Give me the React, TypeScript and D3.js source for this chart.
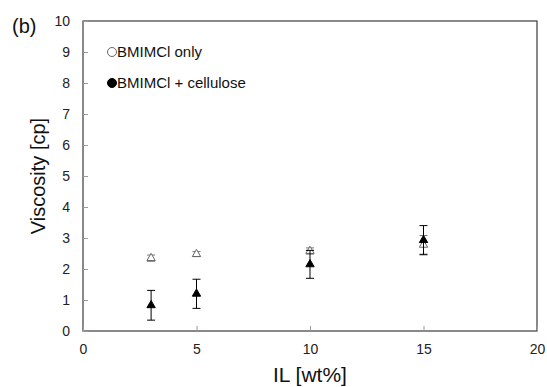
import React, { useEffect, useRef } from 'react';
import * as d3 from 'd3';

// IL concentration [wt%]
const ilWt = [3, 5, 10, 15];
// viscosity [cp], BMIMCl only (open) and BMIMCl + cellulose (filled)
const onlyVals = [2.35, 2.48, 2.58, 2.78];
const onlyErr = [0.1, 0.08, 0.1, 0.3];
const celluloseVals = [0.83, 1.2, 2.15, 2.93];
const celluloseErr = [0.48, 0.47, 0.45, 0.47];
const xTicks = [0, 5, 10, 15, 20];
const yTicks = [0, 1, 2, 3, 4, 5, 6, 7, 8, 9, 10];
const legendLabels = ['BMIMCl only', 'BMIMCl + cellulose'];

const App: React.FC = () => {
  const ref = useRef<SVGSVGElement | null>(null);

  useEffect(() => {
    if (!ref.current) return;
    const width = 547;
    const height = 387;
    const font = 'Arial, "Liberation Sans", sans-serif';
    const axisColor = '#4a4a4a';

    const x = d3.scaleLinear().domain([0, 20]).range([83, 537]);
    const y = d3.scaleLinear().domain([0, 10]).range([331, 21]);

    const svg = d3.select(ref.current)
      .attr('width', width)
      .attr('height', height)
      .style('font-family', font);
    svg.selectAll('*').remove();

    // plot frame
    svg.append('rect')
      .attr('x', x(0)).attr('y', y(10))
      .attr('width', x(20) - x(0)).attr('height', y(0) - y(10))
      .attr('fill', 'none').attr('stroke', axisColor).attr('stroke-width', 1.3);

    // ticks point inward
    const xAxis = svg.append('g')
      .attr('transform', `translate(0,${y(0)})`)
      .call(d3.axisBottom(x).tickValues(xTicks).tickSize(-5).tickPadding(13).tickFormat(d3.format('d')));
    xAxis.select('.domain').remove();
    xAxis.selectAll('line').attr('stroke', '#999');
    xAxis.selectAll('text').attr('font-size', 14).attr('fill', '#222').attr('font-family', font);

    const yAxis = svg.append('g')
      .attr('transform', `translate(${x(0)},0)`)
      .call(d3.axisLeft(y).tickValues(yTicks).tickSize(-5).tickPadding(13).tickFormat(d3.format('d')));
    yAxis.select('.domain').remove();
    yAxis.selectAll('line').attr('stroke', '#999');
    yAxis.selectAll('text').attr('font-size', 14).attr('fill', '#222').attr('font-family', font);

    const tri = d3.symbol().type(d3.symbolTriangle).size(30);

    const drawSeries = (vals: number[], errs: number[], filled: boolean) => {
      const g = svg.append('g');
      const color = filled ? '#000' : '#777';
      vals.forEach((v, i) => {
        const cx = x(ilWt[i]);
        const top = y(v + errs[i]);
        const bot = y(v - errs[i]);
        g.append('line').attr('x1', cx).attr('x2', cx).attr('y1', top).attr('y2', bot)
          .attr('stroke', color).attr('stroke-width', 1);
        [top, bot].forEach(yy => {
          g.append('line').attr('x1', cx - 4).attr('x2', cx + 4).attr('y1', yy).attr('y2', yy)
            .attr('stroke', color).attr('stroke-width', 1);
        });
        g.append('path')
          .attr('d', tri()!)
          .attr('transform', `translate(${cx},${y(v)})`)
          .attr('fill', filled ? '#000' : '#fff')
          .attr('stroke', filled ? '#000' : '#666')
          .attr('stroke-width', 1);
      });
    };
    drawSeries(onlyVals, onlyErr, false);
    drawSeries(celluloseVals, celluloseErr, true);

    // legend
    legendLabels.forEach((label, i) => {
      const ly = y(9 - i);
      svg.append('circle')
        .attr('cx', 112).attr('cy', ly)
        .attr('r', 4.5)
        .attr('fill', i === 0 ? '#fff' : '#000')
        .attr('stroke', i === 0 ? '#666' : '#000')
        .attr('stroke-width', 1);
      svg.append('text')
        .attr('x', 117).attr('y', ly)
        .attr('dy', '0.35em')
        .attr('font-size', 15)
        .attr('fill', '#111')
        .text(label);
    });

    // panel label
    svg.append('text')
      .attr('x', 12).attr('y', 33)
      .attr('font-size', 20)
      .attr('fill', '#111')
      .text('(b)');

    // axis titles
    svg.append('text')
      .attr('x', x(10)).attr('y', 382)
      .attr('text-anchor', 'middle')
      .attr('font-size', 21)
      .attr('fill', '#111')
      .text('IL [wt%]');
    svg.append('text')
      .attr('transform', `translate(45,${y(5)}) rotate(-90)`)
      .attr('text-anchor', 'middle')
      .attr('font-size', 20)
      .attr('fill', '#111')
      .text('Viscosity [cp]');
  }, []);

  return (
    <div style={{ position: 'absolute', left: 0, top: 0 }}>
      <svg ref={ref}></svg>
    </div>
  );
};

export default App;
